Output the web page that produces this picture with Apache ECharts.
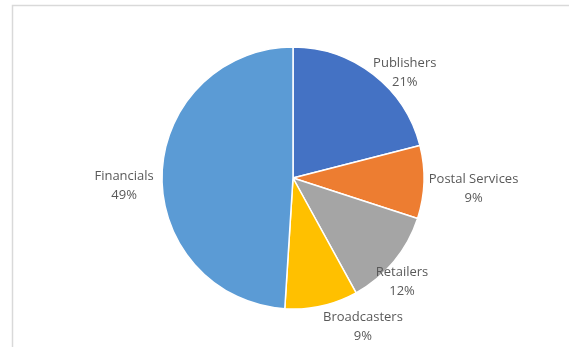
<!DOCTYPE html>
<html>
<head>
<meta charset="utf-8">
<script src="https://cdn.jsdelivr.net/npm/echarts@6/dist/echarts.min.js"></script>
<style>
  html, body { margin: 0; padding: 0; background: #fff; }
  #chart { width: 569px; height: 347px; }
</style>
</head>
<body>
<div id="chart"></div>
<script>
// Share of recipients by sector (percent)
const categories = ['Publishers', 'Postal Services', 'Retailers', 'Broadcasters', 'Financials'];
const shares = [21, 9, 12, 9, 49];
const colors = ['#4472C4', '#ED7D31', '#A5A5A5', '#FFC000', '#5B9BD5'];

// Label placement: distance from centre (in radii) and angular nudge (degrees)
const labelDist = [1.18, 1.38, 1.14, 1.24, 1.29];
const labelTurn = [8.5, 1.0, 3.5, -12.9, -3.8];

const CX = 293, CY = 178, R = 131;

const total = shares.reduce((a, b) => a + b, 0);
const midAngles = [];
let acc = 0;
shares.forEach(v => {
  midAngles.push((acc + v / 2) / total * 360);
  acc += v;
});

const chart = echarts.init(document.getElementById('chart'), null, { renderer: 'canvas' });

chart.setOption({
  animation: false,
  backgroundColor: '#ffffff',
  graphic: [{
    type: 'rect',
    shape: { x: 12.5, y: 5.5, width: 620, height: 400 },
    style: { fill: 'none', stroke: '#d9d9d9', lineWidth: 1.5 },
    silent: true
  }],
  series: [{
    type: 'pie',
    center: [CX, CY],
    radius: [0, R],
    startAngle: 90,
    clockwise: true,
    data: categories.map((name, i) => ({
      name, value: shares[i], itemStyle: { color: colors[i] }
    })),
    itemStyle: { borderColor: '#ffffff', borderWidth: 1.5 },
    label: {
      show: true,
      position: 'outside',
      formatter: '{b}\n{c}%',
      color: '#595959',
      fontFamily: 'Open Sans',
      fontSize: 13,
      lineHeight: 19,
      align: 'center',
      overflow: 'none',
      width: 200
    },
    labelLine: { show: false },
    labelLayout: function (p) {
      const i = p.dataIndex;
      const a = (midAngles[i] + labelTurn[i]) * Math.PI / 180;
      const d = R * labelDist[i];
      return {
        x: CX + d * Math.sin(a),
        y: CY - d * Math.cos(a) + 2,
        align: 'center',
        verticalAlign: 'middle'
      };
    },
    emphasis: { disabled: true }
  }]
});
</script>
</body>
</html>
